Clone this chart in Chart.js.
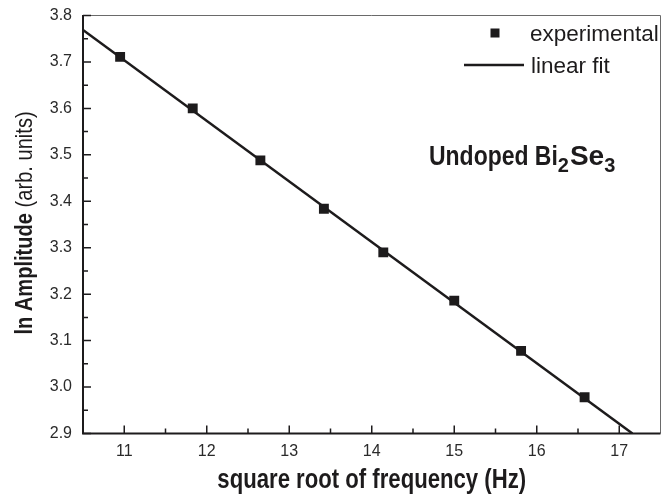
<!DOCTYPE html>
<html>
<head>
<meta charset="utf-8">
<script src="https://cdn.jsdelivr.net/npm/chart.js@4/dist/chart.umd.min.js"></script>
<style>
html,body{margin:0;padding:0;background:#fff;}
canvas{display:block;}
</style>
</head>
<body>
<canvas id="c" width="661" height="498"></canvas>
<script>
// ---- data ----
const expX = [10.95, 11.83, 12.65, 13.42, 14.14, 15.00, 15.81, 16.58];
const expY = [3.711, 3.600, 3.488, 3.384, 3.290, 3.186, 3.078, 2.978];
const fitX = [10.5, 17.16];
const fitY = [3.769, 2.9];
const xTicks = [11, 12, 13, 14, 15, 16, 17];
const yTicks = [2.9, 3.0, 3.1, 3.2, 3.3, 3.4, 3.5, 3.6, 3.7, 3.8];
const xMinor = [11.5, 12.5, 13.5, 14.5, 15.5, 16.5];
const yMinor = [2.95, 3.05, 3.15, 3.25, 3.35, 3.45, 3.55, 3.65, 3.75];
const seriesNames = ['experimental', 'linear fit'];
const xTitle = 'square root of frequency (Hz)';
const yTitleBold = 'ln Amplitude';
const yTitleReg = ' (arb. units)';

const INK = '#1d1b1c';
const FONT = '"Liberation Sans", Arial, Helvetica, sans-serif';

const framePlugin = {
  id: 'frame',
  afterDraw(chart) {
    const ctx = chart.ctx;
    const a = chart.chartArea;
    const xs = chart.scales.x, ys = chart.scales.y;
    ctx.save();
    // top & right thin gray border
    ctx.strokeStyle = '#6a6a6a';
    ctx.lineWidth = 1;
    ctx.beginPath();
    ctx.moveTo(a.left, a.top); ctx.lineTo(a.right, a.top); ctx.lineTo(a.right, a.bottom);
    ctx.stroke();
    // left & bottom thick axes
    ctx.strokeStyle = INK;
    ctx.lineWidth = 2;
    ctx.beginPath();
    ctx.moveTo(a.left, a.top - 0.5); ctx.lineTo(a.left, a.bottom); ctx.lineTo(a.right, a.bottom);
    ctx.stroke();
    // ticks (inward)
    ctx.lineWidth = 1.5;
    ctx.beginPath();
    xTicks.forEach(v => { const p = xs.getPixelForValue(v); ctx.moveTo(p, a.bottom); ctx.lineTo(p, a.bottom - 8); });
    xMinor.forEach(v => { const p = xs.getPixelForValue(v); ctx.moveTo(p, a.bottom); ctx.lineTo(p, a.bottom - 5); });
    yTicks.forEach(v => { const p = ys.getPixelForValue(v); ctx.moveTo(a.left, p); ctx.lineTo(a.left + 8, p); });
    yMinor.forEach(v => { const p = ys.getPixelForValue(v); ctx.moveTo(a.left, p); ctx.lineTo(a.left + 5, p); });
    ctx.stroke();

    // legend
    ctx.fillStyle = INK;
    ctx.fillRect(495 - 4.5, 33 - 4.5, 9, 9);
    ctx.lineWidth = 2.5;
    ctx.beginPath(); ctx.moveTo(464, 65); ctx.lineTo(524, 65); ctx.stroke();
    ctx.font = '22.5px ' + FONT;
    ctx.textBaseline = 'alphabetic';
    ctx.textAlign = 'left';
    ctx.fillText(seriesNames[0], 530, 41);
    ctx.fillText(seriesNames[1], 531, 72.5);

    // annotation: Undoped Bi2Se3
    const sx = 0.82;
    const big = 'bold 28px ' + FONT, sub = 'bold 20px ' + FONT;
    const parts = [['Undoped Bi', big, 0, 0.82, 0], ['2', sub, 7, 1.0, 1], ['Se', big, 0, 1.0, 0], ['3', sub, 7, 1.0, 0]];
    let x = 429;
    parts.forEach(([t, f, dy, s, gap]) => {
      ctx.save();
      ctx.font = f;
      const w = ctx.measureText(t).width * s;
      ctx.translate(x, 165 + dy);
      ctx.scale(s, 1);
      ctx.fillText(t, 0, 0);
      ctx.restore();
      x += w + gap;
    });

    // x title
    ctx.save();
    ctx.translate((a.left + a.right) / 2, 488);
    ctx.scale(sx, 1);
    ctx.font = 'bold 27px ' + FONT;
    ctx.textAlign = 'center';
    ctx.fillText(xTitle, 0, 0);
    ctx.restore();

    // y title (mixed weight, rotated)
    ctx.save();
    ctx.translate(32, 223);
    ctx.rotate(-Math.PI / 2);
    ctx.scale(sx, 1);
    const fb = 'bold 24.5px ' + FONT, fr = '24.5px ' + FONT;
    ctx.font = fb; const wb = ctx.measureText(yTitleBold).width;
    ctx.font = fr; const wr = ctx.measureText(yTitleReg).width;
    const start = -(wb + wr) / 2;
    ctx.textAlign = 'left';
    ctx.font = fb; ctx.fillText(yTitleBold, start, 0);
    ctx.font = fr; ctx.fillText(yTitleReg, start + wb, 0);
    ctx.restore();

    ctx.restore();
  }
};

new Chart(document.getElementById('c'), {
  type: 'scatter',
  data: {
    datasets: [
      {
        label: seriesNames[0],
        data: expX.map((x, i) => ({ x, y: expY[i] })),
        pointStyle: 'rect',
        pointRadius: 7,
        pointBorderWidth: 0,
        backgroundColor: INK,
        borderColor: INK,
        showLine: false,
        order: 0
      },
      {
        label: seriesNames[1],
        data: fitX.map((x, i) => ({ x, y: fitY[i] })),
        showLine: true,
        pointRadius: 0,
        borderColor: INK,
        borderWidth: 2.5,
        fill: false,
        order: 1
      }
    ]
  },
  options: {
    responsive: false,
    animation: false,
    devicePixelRatio: 1,
    layout: { autoPadding: false, padding: { top: 15.5, right: 0.5, left: 0, bottom: 0 } },
    plugins: { legend: { display: false }, tooltip: { enabled: false } },
    scales: {
      x: {
        type: 'linear', min: 10.5, max: 17.5,
        afterBuildTicks: s => { s.ticks = xTicks.map(v => ({ value: v })); },
        afterFit: s => { s.height = 64.5; s.paddingLeft = 0; s.paddingRight = 0; },
        grid: { display: false, drawTicks: false },
        border: { display: false },
        ticks: { padding: 8, color: '#2a2a2a', font: { size: 16, family: FONT }, maxRotation: 0, autoSkip: false, callback: v => String(v) }
      },
      y: {
        type: 'linear', min: 2.9, max: 3.8,
        afterBuildTicks: s => { s.ticks = yTicks.map(v => ({ value: v })); },
        afterFit: s => { s.width = 83; s.paddingTop = 0; s.paddingBottom = 0; },
        grid: { display: false, drawTicks: false },
        border: { display: false },
        ticks: { padding: 11, color: '#2a2a2a', font: { size: 16, family: FONT }, autoSkip: false, callback: v => Number(v).toFixed(1) }
      }
    }
  },
  plugins: [framePlugin]
});
</script>
</body>
</html>
